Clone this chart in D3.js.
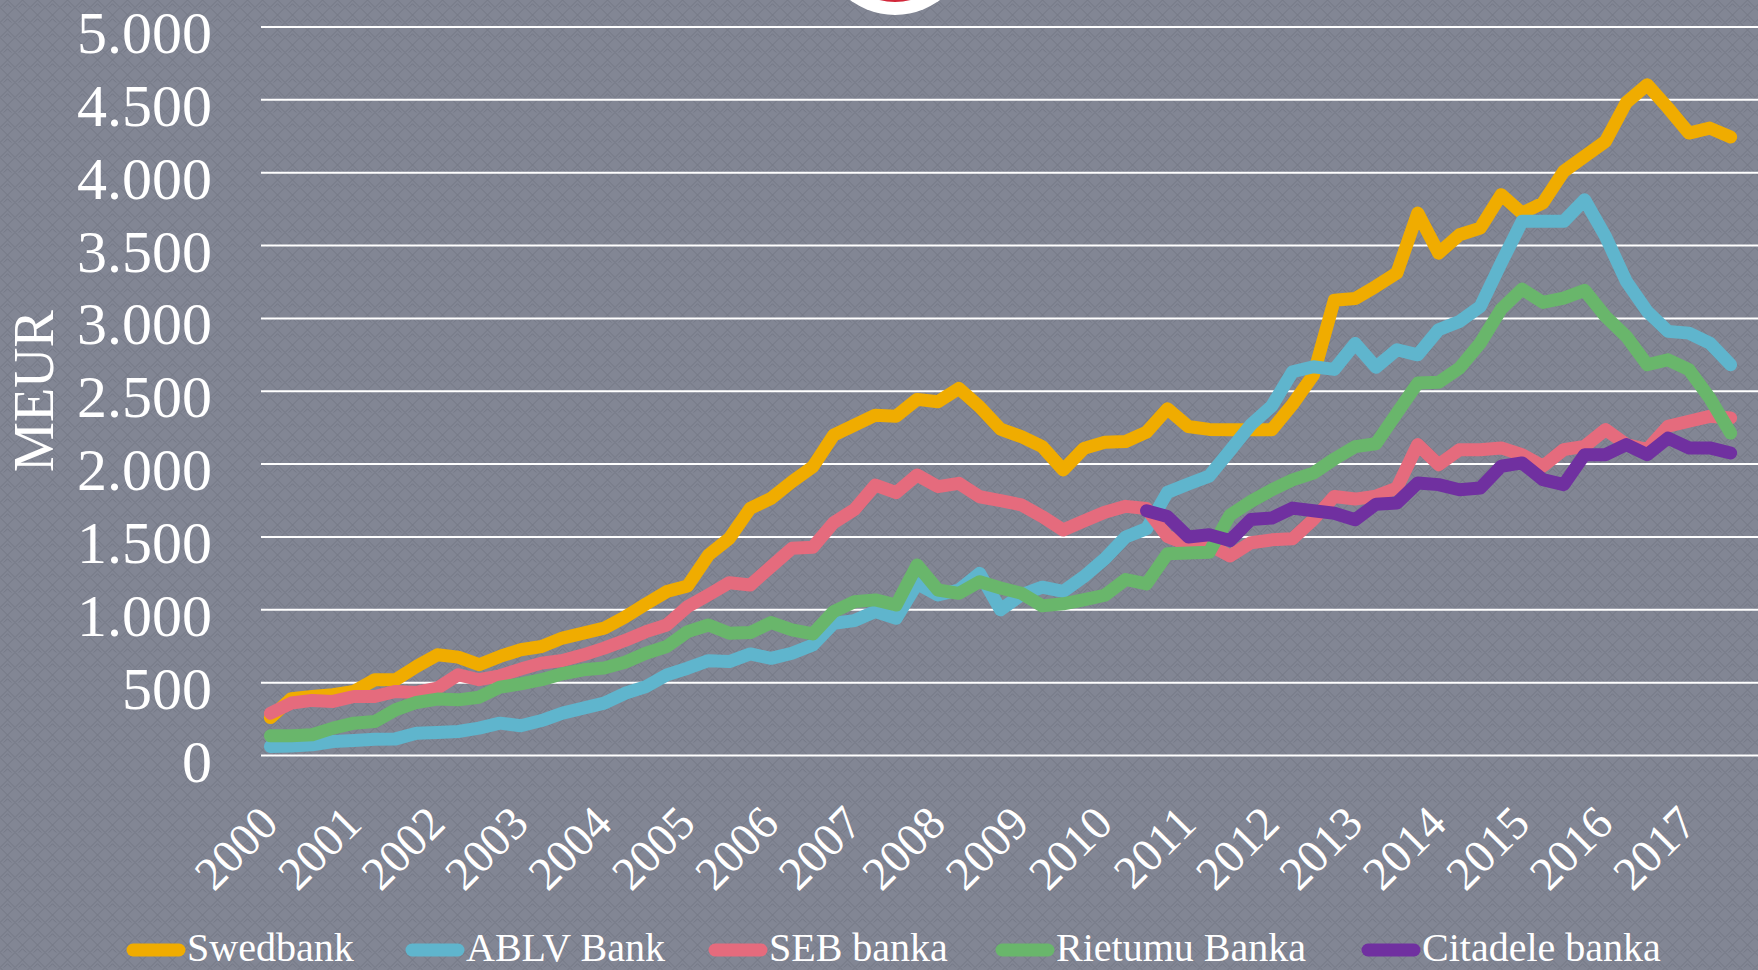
<!DOCTYPE html>
<html>
<head>
<meta charset="utf-8">
<script src="https://cdn.jsdelivr.net/npm/d3@7"></script>
<style>
  body { margin: 0; background: #80848f; }
  .tick_label { font-family: 'Liberation Serif', serif; fill: #ffffff; }
  .legend_label { font-family: 'Liberation Serif', serif; fill: #ffffff; font-size: 40px; }
</style>
</head>
<body>
<div id="content"></div>
<script>
// chart size
var svg_width = 1758;
var svg_height = 970;
var margin = {top: 27, left: 261, bottom: 214};
var plot_right = 1758;
var band_left = 260;
var band_step = 20.86;

// data: quarterly values in MEUR, 2000 Q1 - 2017 Q3
var years = ['2000','2001','2002','2003','2004','2005','2006','2007','2008',
             '2009','2010','2011','2012','2013','2014','2015','2016','2017'];
var bankNames = ['Swedbank', 'ABLV Bank', 'SEB banka', 'Rietumu Banka', 'Citadele banka'];
var bankColors = ['#f0ac00', '#5fb5cd', '#e56b7d', '#69b66b', '#7030a0'];
var yTicks = [0, 500, 1000, 1500, 2000, 2500, 3000, 3500, 4000, 4500, 5000];

var swedbank = [260,390,405,417,440,520,520,611,691,675,
                623,680,726,748,806,840,874,950,1040,1125,
                1164,1376,1490,1696,1765,1879,1982,2199,2268,2336,
                2329,2444,2428,2519,2393,2240,2188,2120,1960,2108,
                2150,2155,2220,2380,2258,2238,2235,2235,2235,2410,
                2611,3125,3136,3220,3311,3723,3448,3574,3620,3849,
                3723,3792,4009,4112,4215,4482,4604,4444,4272,4306,
                4245];
var ablv = [62,66,73,96,103,112,114,153,158,165,
            188,222,204,240,291,325,359,427,473,553,
            599,651,645,697,667,702,759,908,926,988,
            942,1180,1102,1136,1250,1000,1103,1155,1126,1228,
            1350,1500,1557,1806,1863,1917,2092,2270,2398,2634,
            2668,2650,2828,2665,2785,2750,2922,2979,3082,3380,
            3666,3666,3666,3814,3563,3254,3048,2911,2899,2831,
            2682];
var seb = [290,360,378,371,405,405,440,433,462,554,
           520,547,593,634,652,691,737,790,850,896,
           1022,1102,1186,1170,1296,1422,1429,1598,1689,1856,
           1804,1925,1845,1868,1776,1750,1720,1640,1548,1610,
           1670,1710,1695,1504,1446,1446,1370,1460,1480,1488,
           1620,1778,1760,1780,1836,2134,1996,2099,2099,2111,
           2065,1985,2099,2122,2237,2134,2099,2260,2294,2328,
           2317];
var rietumu = [135,135,142,188,222,233,314,364,387,382,
               400,469,492,520,561,588,600,640,702,748,
               850,896,839,844,912,862,834,988,1056,1068,
               1033,1308,1136,1113,1193,1150,1114,1027,1041,1069,
               1100,1208,1178,1385,1390,1395,1650,1743,1823,1892,
               1938,2035,2120,2140,2350,2556,2561,2659,2831,3064,
               3201,3110,3139,3192,3014,2876,2682,2716,2648,2453,
               2213];
var citadele = [null,null,null,null,null,null,null,null,null,null,
                null,null,null,null,null,null,null,null,null,null,
                null,null,null,null,null,null,null,null,null,null,
                null,null,null,null,null,null,null,null,null,null,
                null,null,1680,1640,1500,1515,1475,1620,1630,1698,
                1680,1663,1618,1725,1733,1870,1859,1824,1836,1985,
                2008,1893,1859,2065,2065,2134,2065,2179,2111,2111,
                2076];

var series = [swedbank, ablv, seb, rietumu, citadele];

// quarter categories built from the year labels
var quarters = [];
years.forEach(function(y){ ['Q1','Q2','Q3','Q4'].forEach(function(q){ quarters.push(y + ' ' + q); }); });
quarters = quarters.slice(0, swedbank.length);

var svg = d3.select('#content').append('svg')
  .attr('width', svg_width).attr('height', svg_height);

// textured grey background
function drawBackground(){
  var pat = svg.append('defs').append('pattern')
    .attr('id', 'bg').attr('width', 15).attr('height', 15)
    .attr('patternUnits', 'userSpaceOnUse');
  pat.append('rect').attr('width', 15).attr('height', 15).attr('fill', '#828694');
  pat.append('path')
    .attr('d', 'M0,7.5 L7.5,0 L15,7.5 L7.5,15 Z M3.75,7.5 L7.5,3.75 L11.25,7.5')
    .attr('fill', 'none').attr('stroke', '#737785').attr('stroke-width', 1);
  svg.append('rect').attr('width', svg_width).attr('height', svg_height).attr('fill', 'url(#bg)');

  // logo cut at the top edge
  svg.append('circle').attr('cx', 895).attr('cy', -60).attr('r', 75).attr('fill', '#ffffff');
  svg.append('circle').attr('cx', 895).attr('cy', -60).attr('r', 62).attr('fill', '#d2283a');
}

var xScale = d3.scaleBand().domain(quarters).range([band_left, band_left + band_step * quarters.length]);
var yScale = d3.scaleLinear().domain([0, 5000]).range([svg_height - margin.bottom - 0.5, margin.top]);
var lvFormat = d3.formatLocale({decimal: ',', thousands: '.', grouping: [3], currency: ['', '']}).format(',');

function xCenter(q){ return xScale(q) + xScale.bandwidth() / 2; }

// gridlines and y labels
function drawYaxis(){
  svg.append('g').selectAll('line').data(yTicks).enter().append('line')
    .attr('x1', margin.left).attr('x2', plot_right)
    .attr('y1', function(d){ return yScale(d); })
    .attr('y2', function(d){ return yScale(d); })
    .attr('stroke', '#ffffff').attr('stroke-width', 2);

  svg.append('g').selectAll('text').data(yTicks).enter().append('text')
    .attr('class', 'tick_label')
    .attr('x', 212).attr('y', function(d){ return yScale(d) + 26; })
    .attr('text-anchor', 'end').style('font-size', '60px')
    .text(function(d){ return lvFormat(d); });

  svg.append('text').attr('class', 'tick_label')
    .attr('transform', 'translate(53,391) rotate(-90)')
    .attr('text-anchor', 'middle').style('font-size', '56px')
    .text('MEUR');
}

// rotated year labels on the first quarter of each year
function drawXaxis(){
  svg.append('g').selectAll('text').data(years).enter().append('text')
    .attr('class', 'tick_label')
    .attr('text-anchor', 'end').style('font-size', '47px')
    .attr('transform', function(y){ return 'translate(' + (xCenter(y + ' Q1') + 10) + ',826) rotate(-45)'; })
    .text(function(y){ return y; });
}

function drawLines(){
  var line = d3.line()
    .defined(function(d){ return d != null; })
    .x(function(d, i){ return xCenter(quarters[i]); })
    .y(function(d){ return yScale(d); });

  svg.append('g').selectAll('path').data(series).enter().append('path')
    .attr('d', line)
    .attr('fill', 'none')
    .attr('stroke', function(d, i){ return bankColors[i]; })
    .attr('stroke-width', 13)
    .attr('stroke-linejoin', 'round')
    .attr('stroke-linecap', 'round');
}

function drawLegend(){
  var legendX = [127, 406, 709, 996, 1362];
  var g = svg.append('g').selectAll('g').data(bankNames).enter().append('g')
    .attr('transform', function(d, i){ return 'translate(' + legendX[i] + ',950)'; });
  g.append('line').attr('x1', 6).attr('x2', 52).attr('y1', 0).attr('y2', 0)
    .attr('stroke', function(d, i){ return bankColors[i]; })
    .attr('stroke-width', 13).attr('stroke-linecap', 'round');
  g.append('text').attr('class', 'legend_label')
    .attr('x', 60).attr('y', 11)
    .text(function(d){ return d; });
}

drawBackground();
drawYaxis();
drawXaxis();
drawLines();
drawLegend();
</script>
</body>
</html>
